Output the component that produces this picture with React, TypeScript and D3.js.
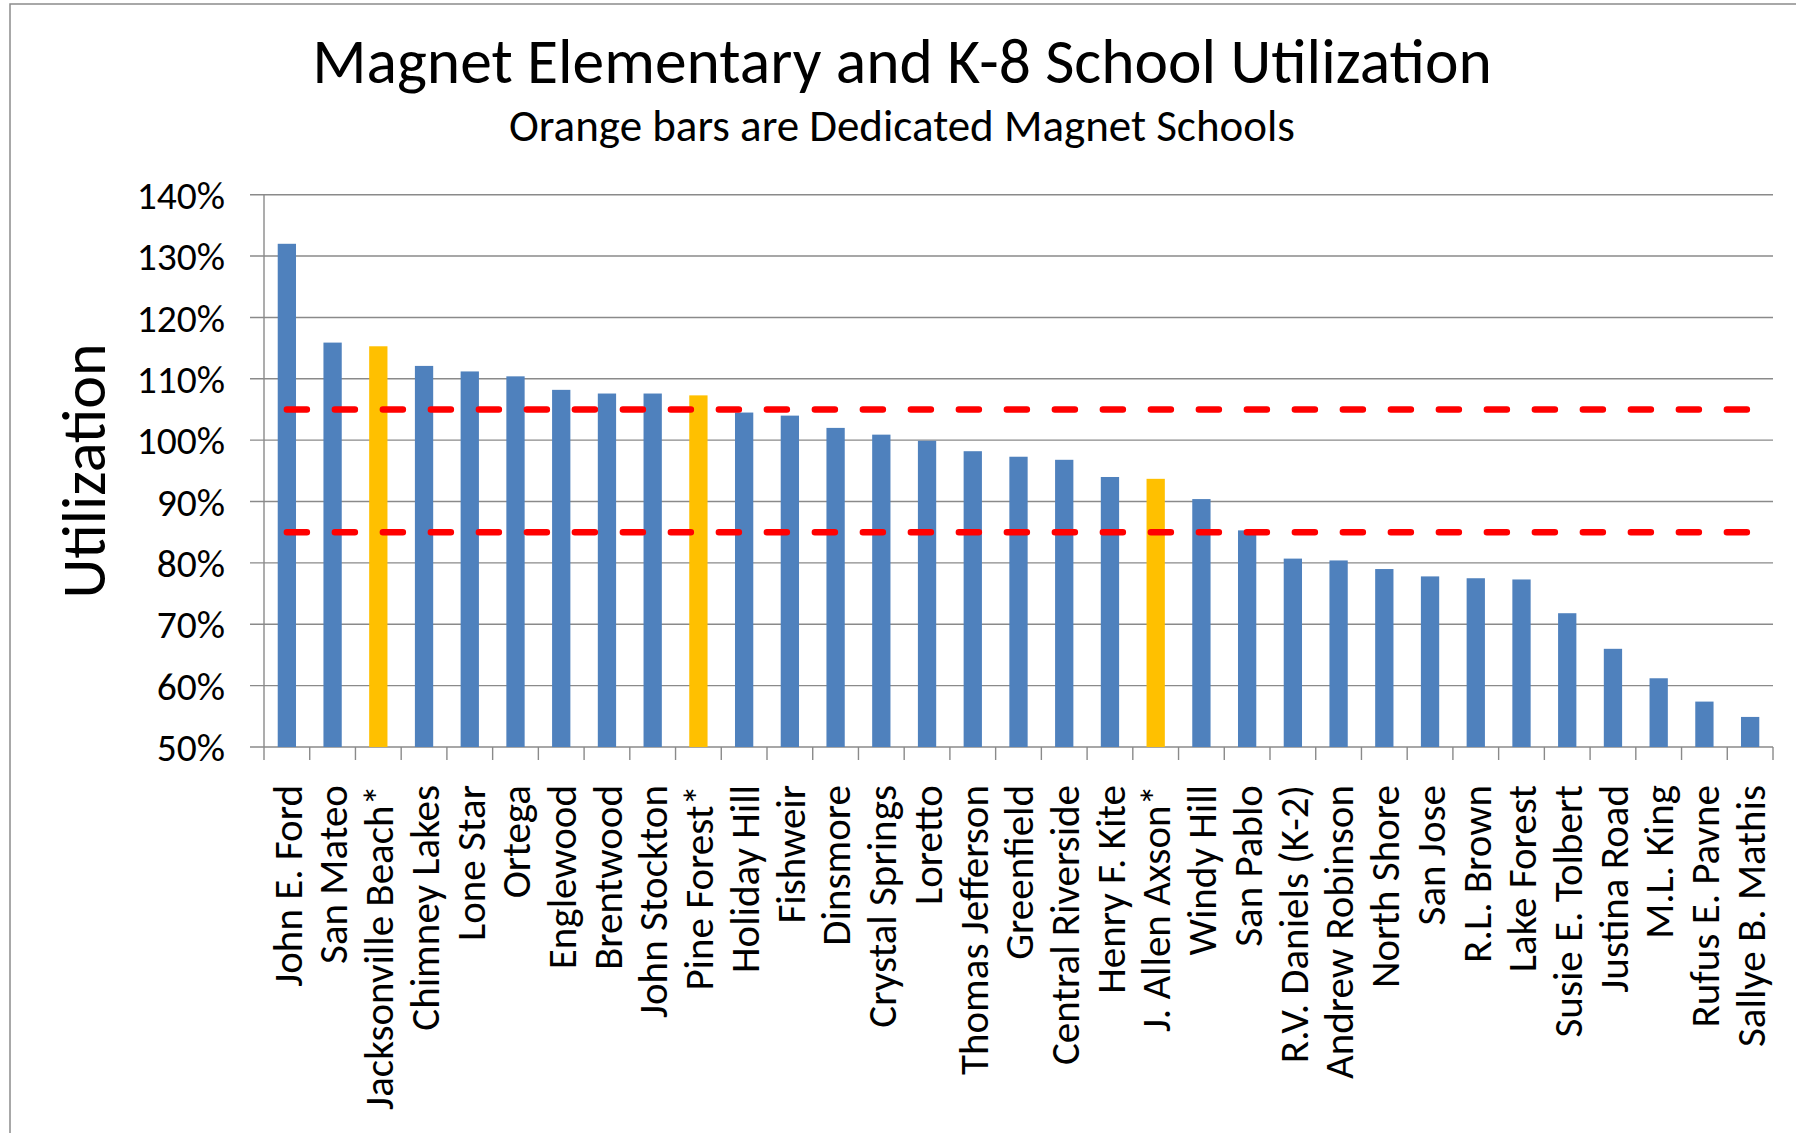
import { useMemo } from 'react'
import * as d3 from 'd3'

const schools = [
  'John E. Ford', 'San Mateo', 'Jacksonville Beach*', 'Chimney Lakes', 'Lone Star', 'Ortega',
  'Englewood', 'Brentwood', 'John Stockton', 'Pine Forest*', 'Holiday Hill', 'Fishweir',
  'Dinsmore', 'Crystal Springs', 'Loretto', 'Thomas Jefferson', 'Greenfield', 'Central Riverside',
  'Henry F. Kite', 'J. Allen Axson*', 'Windy Hill', 'San Pablo', 'R.V. Daniels (K-2)',
  'Andrew Robinson', 'North Shore', 'San Jose', 'R.L. Brown', 'Lake Forest', 'Susie E. Tolbert',
  'Justina Road', 'M.L. King', 'Rufus E. Pavne', 'Sallye B. Mathis',
]

// utilization in percent
const utilization = [
  132.0, 115.9, 115.3, 112.1, 111.2, 110.4,
  108.2, 107.6, 107.6, 107.3, 104.5, 104.0,
  102.0, 100.9, 99.9, 98.2, 97.3, 96.8,
  94.0, 93.7, 90.4, 85.3, 80.7,
  80.4, 79.0, 77.8, 77.5, 77.3, 71.8,
  66.0, 61.2, 57.4, 54.9,
]

// dedicated magnet schools (orange bars)
const dedicated = ['Jacksonville Beach*', 'Pine Forest*', 'J. Allen Axson*']

const yTicks = [50, 60, 70, 80, 90, 100, 110, 120, 130, 140]

// target utilization band (red dashed lines)
const targetLines = [105, 85]

const W = 1796
const H = 1133
const FONT = 'Carlito, Lato, sans-serif'

export default function App() {
  const left = 264
  const right = 1773
  const top = 194.7
  const bottom = 747

  const x = useMemo(
    () => d3.scaleBand<string>().domain(schools).range([left, right]).paddingInner(0.6).paddingOuter(0.3),
    []
  )
  const y = useMemo(() => d3.scaleLinear().domain([50, 140]).range([bottom, top]), [])

  const step = x.step()
  const boundaries = d3.range(schools.length + 1).map((i) => left + i * step)
  const first = (x(schools[0]) ?? 0) + x.bandwidth() / 2
  const last = (x(schools[schools.length - 1]) ?? 0) + x.bandwidth() / 2

  const line = d3
    .line<[number, number]>()
    .x((d) => d[0])
    .y((d) => d[1])

  return (
    <div style={{ position: 'absolute', left: 0, top: 0 }}>
      <svg width={W} height={H} viewBox={`0 0 ${W} ${H}`} style={{ display: 'block', background: '#fff' }}>
        <rect x={10} y={4} width={W} height={H} fill="#fff" stroke="#8c8c8c" strokeWidth={1.5} />

        <text x={902} y={83} textAnchor="middle" fontFamily={FONT} fontSize={63.5} fill="#000">
          Magnet Elementary and K-8 School Utilization
        </text>
        <text x={902} y={141} textAnchor="middle" fontFamily={FONT} fontSize={45} fill="#000">
          Orange bars are Dedicated Magnet Schools
        </text>

        {/* gridlines */}
        {yTicks.map((t) => (
          <line key={t} x1={left - 14} x2={right} y1={y(t)} y2={y(t)} stroke="#8a8a8a" strokeWidth={1.4} />
        ))}

        {/* y axis */}
        <line x1={left} x2={left} y1={top} y2={bottom} stroke="#8a8a8a" strokeWidth={1.4} />
        {yTicks.map((t) => (
          <text
            key={t}
            x={225}
            y={y(t)}
            dy="0.36em"
            textAnchor="end"
            fontFamily={FONT}
            fontSize={39.5}
            fill="#000"
          >
            {d3.format('.0%')(t / 100)}
          </text>
        ))}

        {/* x ticks */}
        {boundaries.map((bx, i) => (
          <line key={i} x1={bx} x2={bx} y1={bottom} y2={bottom + 13} stroke="#8a8a8a" strokeWidth={1.4} />
        ))}

        {/* bars */}
        {schools.map((s, i) => (
          <rect
            key={s}
            x={x(s)}
            y={y(utilization[i])}
            width={x.bandwidth()}
            height={y(50) - y(utilization[i])}
            fill={dedicated.includes(s) ? '#FFC000' : '#4F81BD'}
          />
        ))}

        {/* target lines */}
        {targetLines.map((t) => (
          <path
            key={t}
            d={line([[first, y(t)], [last, y(t)]]) ?? ''}
            fill="none"
            stroke="#FF0000"
            strokeWidth={6.5}
            strokeLinecap="round"
            strokeDasharray="20 28"
          />
        ))}

        {/* category labels */}
        {schools.map((s) => {
          const cx = (x(s) ?? 0) + x.bandwidth() / 2
          return (
            <text
              key={s}
              transform={`translate(${cx},785) rotate(-90)`}
              dy="0.36em"
              textAnchor="end"
              fontFamily={FONT}
              fontSize={41}
              fill="#000"
            >
              {s}
            </text>
          )
        })}

        <text
          transform="translate(105,471) rotate(-90)"
          textAnchor="middle"
          fontFamily={FONT}
          fontSize={62}
          fill="#000"
        >
          Utilization
        </text>
      </svg>
    </div>
  )
}
